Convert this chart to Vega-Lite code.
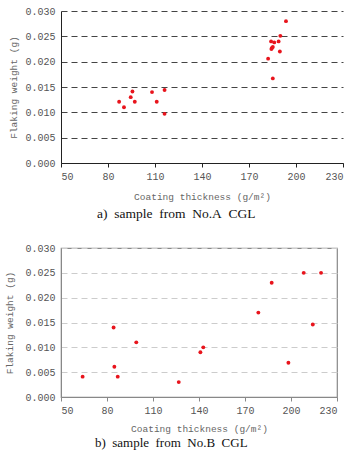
{
  "$schema": "https://vega.github.io/schema/vega-lite/v6.json",
  "padding": {"left": 4, "top": 6, "right": 2, "bottom": 0},
  "background": "white",
  "spacing": 22,
  "config": {
    "axis": {"labelFont": "Liberation Mono", "titleFont": "Liberation Mono", "labelFontSize": 10, "titleFontSize": 9.5, "labelColor": "#555", "titleColor": "#666", "titleFontWeight": "normal", "tickSize": 4},
    "title": {"font": "Liberation Serif", "fontSize": 13.5, "fontWeight": "normal", "color": "#111", "orient": "bottom", "anchor": "middle", "frame": "bounds"}
  },
  "datasets": {
    "a": [
      {"t": 87.1, "w": 0.0121}, {"t": 90.2, "w": 0.0110}, {"t": 94.5, "w": 0.0130}, {"t": 95.6, "w": 0.0141},
      {"t": 97.1, "w": 0.0121}, {"t": 108.1, "w": 0.0140}, {"t": 111.1, "w": 0.0121}, {"t": 116.1, "w": 0.0144},
      {"t": 116.1, "w": 0.0097}, {"t": 182.2, "w": 0.0206}, {"t": 184.1, "w": 0.0240}, {"t": 186.1, "w": 0.0238},
      {"t": 188.9, "w": 0.0240}, {"t": 184.6, "w": 0.0227}, {"t": 185.2, "w": 0.0229}, {"t": 184.3, "w": 0.0225},
      {"t": 185.2, "w": 0.0167}, {"t": 190.0, "w": 0.0251}, {"t": 189.7, "w": 0.0220}, {"t": 193.6, "w": 0.0280}
    ],
    "b": [
      {"t": 64.1, "w": 0.0041}, {"t": 84.3, "w": 0.0140}, {"t": 84.8, "w": 0.0061}, {"t": 87.0, "w": 0.0041},
      {"t": 99.1, "w": 0.0110}, {"t": 126.8, "w": 0.0030}, {"t": 140.9, "w": 0.0090}, {"t": 142.8, "w": 0.0100},
      {"t": 178.7, "w": 0.0170}, {"t": 187.4, "w": 0.0230}, {"t": 198.3, "w": 0.0069}, {"t": 208.3, "w": 0.0250},
      {"t": 214.2, "w": 0.0146}, {"t": 219.6, "w": 0.0250}
    ]
  },
  "vconcat": [
    {
      "width": 282, "height": 152,
      "title": {"text": "a)\u00a0\u00a0sample\u00a0\u00a0from\u00a0\u00a0No.A\u00a0\u00a0CGL", "offset": 6},
      "view": {"stroke": null},
      "data": {"name": "a"},
      "mark": {"type": "point", "shape": "circle", "filled": true, "size": 15, "color": "#e8141c", "opacity": 1},
      "encoding": {
        "x": {"field": "t", "type": "quantitative", "scale": {"domain": [50, 230], "nice": false, "zero": false},
          "axis": {"values": [50, 80, 110, 140, 170, 200, 230], "grid": false, "title": "Coating thickness (g/m²)", "domainColor": "#222", "tickColor": "#222", "labelPadding": 4, "titlePadding": 10}},
        "y": {"field": "w", "type": "quantitative", "scale": {"domain": [0, 0.03], "nice": false},
          "axis": {"values": [0, 0.005, 0.01, 0.015, 0.02, 0.025, 0.03], "format": ".3f", "title": "Flaking weight (g)", "grid": true, "gridColor": "#444", "gridDash": [6, 4], "gridWidth": 1.2, "domainColor": "#222", "tickColor": "#222", "tickSize": 0, "labelPadding": 6, "titlePadding": 6}}
      }
    },
    {
      "width": 276, "height": 149,
      "title": {"text": "b)\u00a0\u00a0sample\u00a0\u00a0from\u00a0\u00a0No.B\u00a0\u00a0CGL", "offset": 4, "fontSize": 13},
      "view": {"stroke": "#888", "strokeWidth": 1.2},
      "data": {"name": "b"},
      "mark": {"type": "point", "shape": "circle", "filled": true, "size": 15, "color": "#e8141c", "opacity": 1},
      "encoding": {
        "x": {"field": "t", "type": "quantitative", "scale": {"domain": [50, 230], "nice": false, "zero": false},
          "axis": {"values": [50, 80, 110, 140, 170, 200, 230], "grid": false, "title": "Coating thickness (g/m²)", "domainColor": "#888", "tickColor": "#888", "labelPadding": 4, "titlePadding": 8}},
        "y": {"field": "w", "type": "quantitative", "scale": {"domain": [0, 0.03], "nice": false},
          "axis": {"values": [0, 0.005, 0.01, 0.015, 0.02, 0.025, 0.03], "format": ".3f", "title": "Flaking weight (g)", "grid": true, "gridColor": "#ccc", "gridDash": [6, 4], "gridWidth": 1, "domainColor": "#888", "tickColor": "#888", "tickSize": 0, "labelPadding": 6, "titlePadding": 10}}
      }
    }
  ]
}
